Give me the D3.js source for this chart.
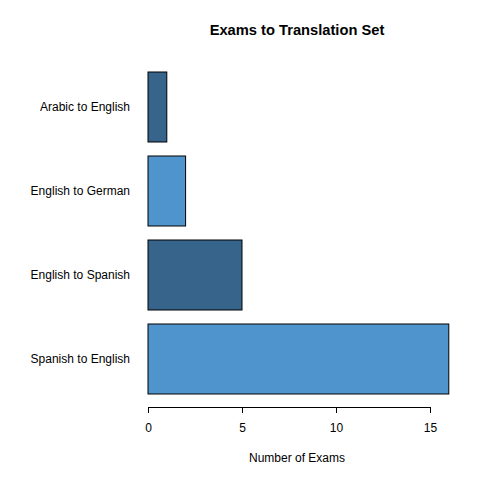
<!DOCTYPE html>
<html><head><meta charset="utf-8">
<script src="https://cdn.jsdelivr.net/npm/d3@7"></script>
<style>body{margin:0;background:#fff}svg{display:block}text{font-family:"Liberation Sans",Arial,sans-serif}</style>
</head><body><svg id="c" width="480" height="480"></svg>
<script>
const categories = ["Spanish to English","English to Spanish","English to German","Arabic to English"];
const values = [16, 5, 2, 1];
const colors = ["#4F94CD","#36648B","#4F94CD","#36648B"];
const xTicks = [0,5,10,15];
const title = "Exams to Translation Set";
const xLabel = "Number of Exams";

const svg = d3.select("#c");
const x = d3.scaleLinear().domain([0,15]).range([148,430]);
// R barplot: bar i spans [0.2+1.2*i, 1.2+1.2*i]; unit 0 at y=408, 70px/unit
const y = d3.scaleLinear().domain([0,4.8]).range([408,72]);

svg.selectAll("rect.bar").data(values).join("rect")
  .attr("class","bar")
  .attr("x", x(0))
  .attr("y", (d,i)=>y(1.2+1.2*i))
  .attr("width", d=>x(d)-x(0))
  .attr("height", (d,i)=>y(0.2+1.2*i)-y(1.2+1.2*i))
  .attr("fill", (d,i)=>colors[i])
  .attr("stroke","#000").attr("stroke-width",1);

svg.selectAll("text.cat").data(categories).join("text")
  .attr("class","cat")
  .attr("x", 130)
  .attr("y", (d,i)=>y(0.7+1.2*i))
  .attr("dy","0.35em")
  .attr("text-anchor","end")
  .attr("font-size",12)
  .text(d=>d);

const ax = svg.append("g").attr("transform","translate(0,407)")
  .call(d3.axisBottom(x).tickValues(xTicks).tickSize(6).tickPadding(10).tickFormat(d3.format("d")));
ax.select(".domain").attr("stroke","#000");
ax.selectAll(".tick line").attr("stroke","#000");
ax.selectAll(".tick text").attr("font-size",12).attr("font-family","Liberation Sans, Arial, sans-serif").attr("fill","#000");

svg.append("text").attr("x",297).attr("y",462).attr("text-anchor","middle").attr("font-size",12).text(xLabel);
svg.append("text").attr("x",297).attr("y",35).attr("text-anchor","middle").attr("font-size",14.7).attr("font-weight","bold").text(title);
</script></body></html>
